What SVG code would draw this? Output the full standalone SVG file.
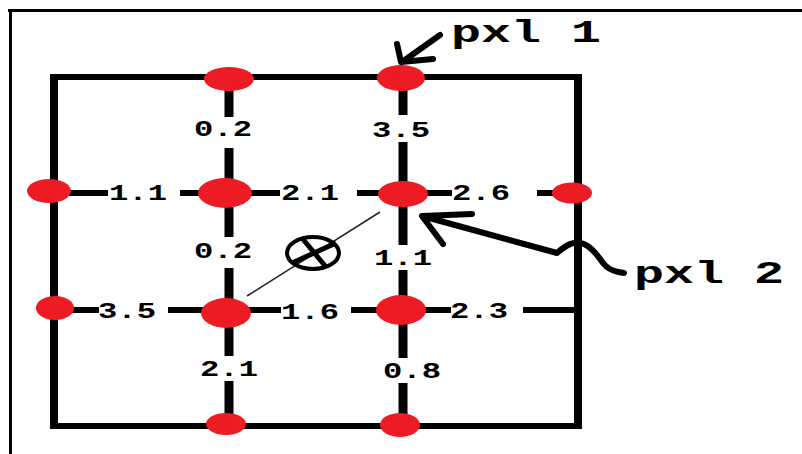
<svg xmlns="http://www.w3.org/2000/svg" width="802" height="454" viewBox="0 0 802 454">
<style>
.frame{stroke:#000;stroke-width:3;fill:none}
.box{stroke:#000;fill:none}
.h{stroke:#000;stroke-width:6;stroke-linecap:butt}
.v{stroke:#000;stroke-width:9;stroke-linecap:butt}
.pt{fill:#ED1C24}
.lbl{font-family:"Liberation Mono","Courier New",monospace;font-weight:bold;font-size:22px;fill:#000;text-anchor:middle}
.big{font-family:"Liberation Mono","Courier New",monospace;font-weight:bold;font-size:31px;fill:#000}
.arrow{stroke:#000;stroke-width:6;fill:none;stroke-linecap:round;stroke-linejoin:round}
</style>
<rect width="802" height="454" fill="#fff"/>
<g id="frame">
<line class="frame" x1="8" y1="10.5" x2="802" y2="10.5"/>
<line class="frame" x1="10.5" y1="9" x2="10.5" y2="454"/>
</g>
<g id="box">
<line class="box" stroke-width="8" x1="54" y1="74" x2="54" y2="429"/>
<line class="box" stroke-width="8" x1="578" y1="74" x2="578" y2="429"/>
<line class="box" stroke-width="6" x1="50" y1="77" x2="582" y2="77"/>
<line class="box" stroke-width="6" x1="50" y1="426" x2="582" y2="426"/>
</g>
<g id="connectors">
<line class="v" x1="229" y1="79" x2="229" y2="117"/>
<line class="v" x1="229" y1="148" x2="229" y2="193"/>
<line class="v" x1="229" y1="193" x2="229" y2="237"/>
<line class="v" x1="229" y1="268" x2="229" y2="313"/>
<line class="v" x1="229" y1="313" x2="229" y2="356"/>
<line class="v" x1="229" y1="381" x2="229" y2="424"/>
<line class="v" x1="403" y1="78" x2="403" y2="115"/>
<line class="v" x1="403" y1="142" x2="403" y2="194"/>
<line class="v" x1="403" y1="194" x2="403" y2="245"/>
<line class="v" x1="403" y1="270" x2="403" y2="310"/>
<line class="v" x1="403" y1="310" x2="403" y2="358"/>
<line class="v" x1="403" y1="383" x2="403" y2="425"/>
<line class="h" x1="49" y1="193" x2="108" y2="193"/>
<line class="h" x1="180" y1="193" x2="225" y2="193"/>
<line class="h" x1="225" y1="193" x2="280" y2="193"/>
<line class="h" x1="357" y1="193" x2="403" y2="193"/>
<line class="h" x1="403" y1="193" x2="452" y2="193"/>
<line class="h" x1="537" y1="193" x2="572" y2="193"/>
<line class="h" x1="55" y1="310" x2="99" y2="310"/>
<line class="h" x1="168" y1="310" x2="226" y2="310"/>
<line class="h" x1="226" y1="310" x2="281" y2="310"/>
<line class="h" x1="351" y1="310" x2="401" y2="310"/>
<line class="h" x1="401" y1="310" x2="451" y2="310"/>
<line class="h" x1="523" y1="310" x2="578" y2="310"/>
<line x1="247" y1="296" x2="380" y2="212" stroke="#222" stroke-width="1.5"/>
</g>
<g id="labels">
<text class="lbl" x="223" y="136" textLength="58" lengthAdjust="spacingAndGlyphs">0.2</text>
<text class="lbl" x="401" y="137" textLength="58" lengthAdjust="spacingAndGlyphs">3.5</text>
<text class="lbl" x="223" y="258" textLength="58" lengthAdjust="spacingAndGlyphs">0.2</text>
<text class="lbl" x="403" y="265" textLength="58" lengthAdjust="spacingAndGlyphs">1.1</text>
<text class="lbl" x="229" y="376" textLength="58" lengthAdjust="spacingAndGlyphs">2.1</text>
<text class="lbl" x="412" y="378" textLength="58" lengthAdjust="spacingAndGlyphs">0.8</text>
<text class="lbl" x="138" y="200" textLength="58" lengthAdjust="spacingAndGlyphs">1.1</text>
<text class="lbl" x="310" y="200" textLength="58" lengthAdjust="spacingAndGlyphs">2.1</text>
<text class="lbl" x="481" y="200" textLength="58" lengthAdjust="spacingAndGlyphs">2.6</text>
<text class="lbl" x="127" y="318" textLength="58" lengthAdjust="spacingAndGlyphs">3.5</text>
<text class="lbl" x="310" y="319" textLength="58" lengthAdjust="spacingAndGlyphs">1.6</text>
<text class="lbl" x="479" y="318" textLength="58" lengthAdjust="spacingAndGlyphs">2.3</text>
</g>
<g id="n-top1"><ellipse class="pt" cx="229" cy="79" rx="25" ry="12"/></g>
<g id="n-top2"><ellipse class="pt" cx="401" cy="78" rx="24" ry="13"/></g>
<g id="n-left1"><ellipse class="pt" cx="49" cy="191" rx="22" ry="12"/></g>
<g id="n-mid1"><ellipse class="pt" cx="225" cy="193" rx="27" ry="15"/></g>
<g id="n-mid2"><ellipse class="pt" cx="403" cy="194" rx="25" ry="13"/></g>
<g id="n-right1"><ellipse class="pt" cx="572" cy="193" rx="20" ry="10.5"/></g>
<g id="n-left2"><ellipse class="pt" cx="55" cy="308" rx="19" ry="12"/></g>
<g id="n-mid3"><ellipse class="pt" cx="226" cy="313" rx="25" ry="15"/></g>
<g id="n-mid4"><ellipse class="pt" cx="401" cy="310" rx="25" ry="15"/></g>
<g id="n-bot1"><ellipse class="pt" cx="226" cy="424" rx="20" ry="11"/></g>
<g id="n-bot2"><ellipse class="pt" cx="400" cy="425" rx="20" ry="12"/></g>
<g id="target">
<ellipse cx="313" cy="253" rx="26" ry="16" fill="none" stroke="#000" stroke-width="4"/>
<line x1="302" y1="238" x2="326" y2="267" stroke="#000" stroke-width="5"/>
<line x1="292" y1="263" x2="336" y2="243" stroke="#000" stroke-width="5"/>
</g>
<g id="pxl1">
<path class="arrow" d="M440 35 L402 62 M397 44 L401 62 L433 59"/>
<text class="big" x="451" y="42" textLength="150" lengthAdjust="spacingAndGlyphs">pxl 1</text>
</g>
<g id="pxl2">
<path class="arrow" d="M472 214 L422 216 L443 244 M422 216 L557 253 C565 246 573 240 584 244 C597 250 600 262 607 267 C613 272 619 272 624 273"/>
<text class="big" x="634" y="283" textLength="150" lengthAdjust="spacingAndGlyphs">pxl 2</text>
</g>
</svg>
